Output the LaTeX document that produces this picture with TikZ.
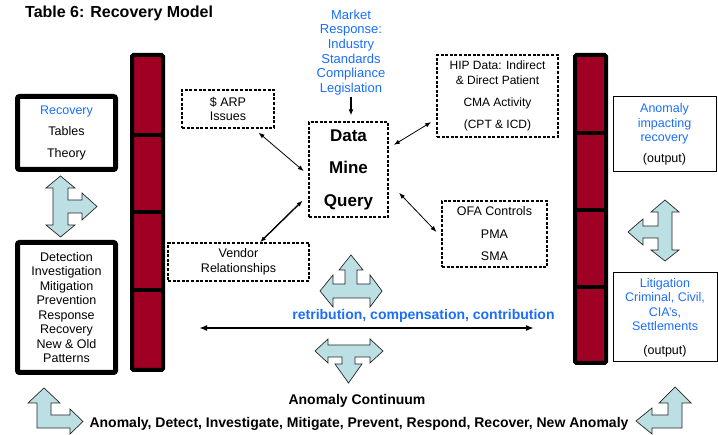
\documentclass[tikz,border=0pt]{standalone}
\usepackage{fontspec}
\setmainfont{Liberation Sans}
\usetikzlibrary{arrows.meta, positioning}

\definecolor{barred}{RGB}{160,0,35}
\definecolor{outblue}{RGB}{25,110,255}
\definecolor{fatblue}{RGB}{188,223,228}
\newcommand{\bluetxt}[1]{\textcolor{outblue}{#1}}

\begin{document}
\begin{tikzpicture}[x=1pt, y=-1pt,
		every node/.style={font=\fontsize{12.5}{14.5}\selectfont, align=center, inner sep=0pt},
		heavybox/.style={draw, line width=5pt, rounded corners=2pt},
		dashbox/.style={draw, line width=1.4pt, dash pattern=on 3pt off 1.6pt},
		outbox/.style={draw, line width=1pt},
		redbar/.style={draw, line width=4pt, fill=barred, rounded corners=1.5pt},
		fatarrow/.style={draw=black!85, line width=0.7pt, fill=fatblue, line join=miter},
		dbl/.style={{Latex[length=6pt,width=4.5pt]}-{Latex[length=6pt,width=4.5pt]}, line width=0.8pt},
		bigdbl/.style={{Latex[length=8pt,width=6pt]}-{Latex[length=8pt,width=6pt]}, line width=1.8pt},
		arr/.style={-{Latex[length=6pt,width=5pt]}, line width=1.5pt},
		boldlabel/.style={font=\fontsize{14}{16}\selectfont\bfseries}
		]
		\useasboundingbox (0,0) rectangle (718,435);
		
		\node[font=\fontsize{16}{18}\selectfont\bfseries, anchor=west] (title) at (25,13) {Table 6: Recovery Model};
		
		% red columns
		\draw[redbar] (132,55) rectangle (163,370);
		\foreach \y in {135,212,290}
		\draw[line width=4pt] (132,\y) -- (163,\y);
		\draw[redbar] (575,55) rectangle (606,363);
		\foreach \y in {133,210,287}
		\draw[line width=4pt] (575,\y) -- (606,\y);
		
		\node[heavybox, minimum width=98pt, minimum height=73pt] (recov) at (66.5,133) {\bluetxt{Recovery}\\[7pt]Tables\\[7pt]Theory};
		\node[heavybox, minimum width=98pt, minimum height=130pt] (detect) at (66.5,307.5) {Detection\\Investigation\\Mitigation\\Prevention\\Response\\Recovery\\New \& Old\\Patterns};
		
		\node[dashbox, minimum width=92pt, minimum height=38pt] (arp) at (228,109) {\$ ARP\\Issues};
		\node[dashbox, minimum width=79pt, minimum height=95pt, font=\fontsize{17}{19}\selectfont\bfseries] (dmq) at (348.5,169.5) {Data\\[13.5pt]Mine\\[13.5pt]Query};
		\node[text=outblue, font=\fontsize{13}{14.7}\selectfont] (market) at (351,52.5) {Market\\Response:\\Industry\\Standards\\Compliance\\Legislation};
		\node[dashbox, minimum width=121pt, minimum height=82pt, font=\fontsize{12}{15}\selectfont] (hip) at (497.5,96) {HIP Data: Indirect\\\& Direct Patient\\[7pt]CMA Activity\\[7pt](CPT \& ICD)};
		\node[dashbox, minimum width=105pt, minimum height=66pt] (ofa) at (494.5,234) {OFA Controls\\[8pt]PMA\\[8pt]SMA};
		\node[dashbox, minimum width=141pt, minimum height=38pt] (vendor) at (238.5,262) {Vendor\\Relationships};
		
		\node[outbox, minimum width=103pt, minimum height=75pt] (anomout) at (664.5,134.5) {\bluetxt{Anomaly}\\\bluetxt{impacting}\\\bluetxt{recovery}\\[6.5pt](output)};
		\node[outbox, minimum width=104pt, minimum height=89pt] (litig) at (665,317.5) {\bluetxt{Litigation}\\\bluetxt{Criminal, Civil,}\\\bluetxt{CIA's,}\\\bluetxt{Settlements}\\[9pt](output)};
		
		\draw[arr, shorten <=1pt, shorten >=6pt] (market.south) -- (market.south |- dmq.north);
		\draw[dbl, shorten <=6pt, shorten >=6pt] ([xshift=26pt]arp.south) -- ([yshift=-5.5pt]dmq.west);
		\draw[dbl, shorten <=6pt, shorten >=6pt] ([yshift=21.5pt]dmq.east) -- ([yshift=-23pt]hip.west);
		\draw[dbl, shorten <=15pt, shorten >=7pt] ([yshift=-12.5pt]dmq.east) -- ([yshift=-3pt]ofa.west);
		\draw[dbl, line width=1.4pt, shorten <=8pt] ([yshift=-25.5pt]dmq.west) -- ([xshift=21.5pt]vendor.north);
		
		\node[boldlabel, text=outblue] (retrib) at (423.5,316) {retribution, compensation, contribution};
		\coordinate (contW) at (199,328);
		\coordinate (contE) at (534,328);
		\draw[bigdbl] (contW) -- (contE);
		\node[boldlabel] (contin) at (357,401) {Anomaly Continuum};
		\node[boldlabel] (phases) at (359,424) {Anomaly, Detect, Investigate, Mitigate, Prevent, Respond, Recover, New Anomaly};
		
		% block arrows
		\draw[fatarrow] (60.5,176) -- (75,188) -- (68,188) -- (68,200) -- (82,200) -- (82,193) -- (97,206.5)
		-- (82,220) -- (82,213) -- (68,213) -- (68,225) -- (75,225) -- (60.5,237) -- (46,225)
		-- (53,225) -- (53,188) -- (46,188) -- cycle;
		\draw[fatarrow] (665,200) -- (679,212) -- (672,212) -- (672,250) -- (679,250) -- (665,261) -- (651,250)
		-- (658,250) -- (658,238) -- (643,238) -- (643,245) -- (628,232) -- (643,219) -- (643,226)
		-- (658,226) -- (658,212) -- (651,212) -- cycle;
		\draw[fatarrow] (351,255) -- (363,270) -- (357,270) -- (357,284) -- (370,284) -- (370,275) -- (382,291)
		-- (370,307) -- (370,298) -- (333,298) -- (333,307) -- (320,291) -- (333,275) -- (333,284)
		-- (345,284) -- (345,270) -- (339,270) -- cycle;
		\draw[fatarrow] (315,351) -- (328,339) -- (328,345) -- (370,345) -- (370,339) -- (383,351) -- (370,363)
		-- (370,357) -- (355,357) -- (355,364) -- (362,364) -- (348.5,383) -- (335,364) -- (342,364)
		-- (342,357) -- (328,357) -- (328,363) -- cycle;
		\draw[fatarrow] (44,388) -- (60,403) -- (51,403) -- (51,415) -- (70,415) -- (70,409) -- (83,421.5)
		-- (70,434) -- (70,428) -- (37,428) -- (37,403) -- (28,403) -- cycle;
		\draw[fatarrow] (675,387) -- (691,403) -- (682,403) -- (682,428) -- (652,428) -- (652,434) -- (636,421)
		-- (652,408) -- (652,415) -- (668,415) -- (668,403) -- (659,403) -- cycle;
	\end{tikzpicture}
\end{document}
